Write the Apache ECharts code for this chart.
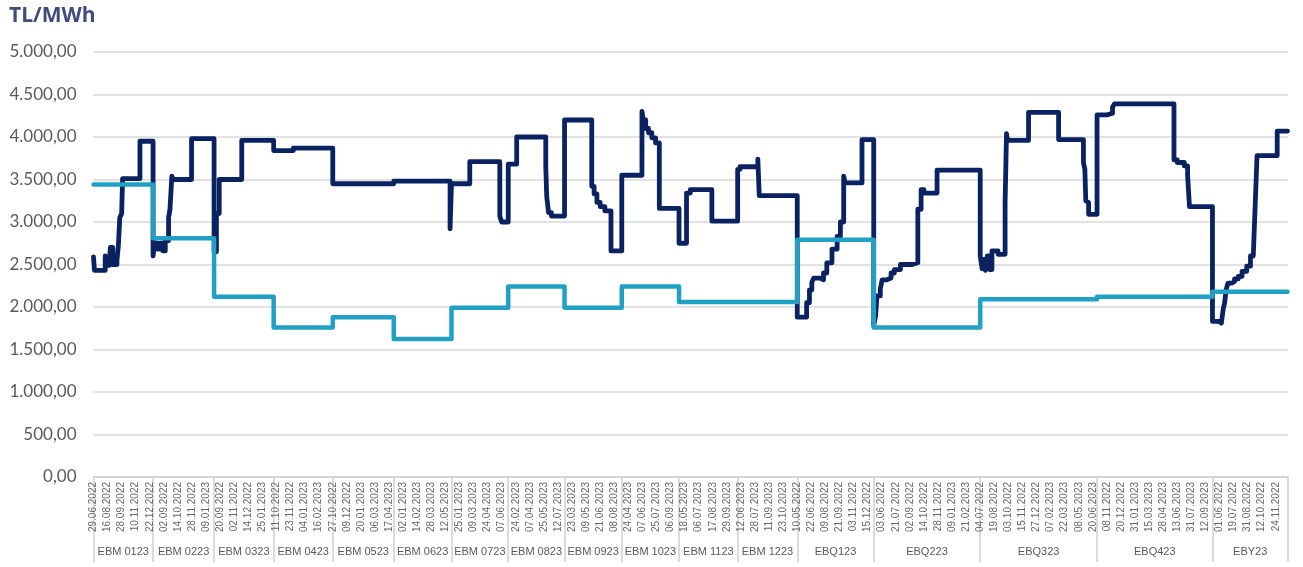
<!DOCTYPE html>
<html>
<head>
<meta charset="utf-8">
<script src="https://cdn.jsdelivr.net/npm/echarts@6/dist/echarts.min.js"></script>
<style>
html,body{margin:0;padding:0;background:#fff;}
#chart{width:1303px;height:567px;}
</style>
</head>
<body>
<div id="chart"></div>
<script>
// ---- DATA ----
// date labels, one every 30 trading days
const labelStep = 30;
const tickDates = [
 "29.06.2022","16.08.2022","28.09.2022","10.11.2022","22.12.2022",
 "02.09.2022","14.10.2022","28.11.2022","09.01.2023",
 "20.09.2022","02.11.2022","14.12.2022","25.01.2023",
 "11.10.2022","23.11.2022","04.01.2023","16.02.2023",
 "27.10.2022","09.12.2022","20.01.2023","06.03.2023","17.04.2023",
 "02.01.2023","14.02.2023","28.03.2023","12.05.2023",
 "25.01.2023","09.03.2023","24.04.2023","07.06.2023",
 "24.02.2023","07.04.2023","25.05.2023","12.07.2023",
 "23.03.2023","09.05.2023","21.06.2023","08.08.2023",
 "24.04.2023","07.06.2023","25.07.2023","06.09.2023",
 "18.05.2023","06.07.2023","17.08.2023","29.09.2023",
 "12.06.2023","28.07.2023","11.09.2023","23.10.2023",
 "10.05.2022","22.06.2022","09.08.2022","21.09.2022","03.11.2022","15.12.2022",
 "03.06.2022","21.07.2022","02.09.2022","14.10.2022","28.11.2022","09.01.2023","21.02.2023",
 "04.07.2022","19.08.2022","03.10.2022","15.11.2022","27.12.2022","07.02.2023","22.03.2023","08.05.2023","20.06.2023",
 "08.11.2022","20.12.2022","31.01.2023","15.03.2023","28.04.2023","13.06.2023","31.07.2023","12.09.2023",
 "01.06.2022","19.07.2022","31.08.2022","12.10.2022","24.11.2022"
];
// contracts (groups) and first trading-day index of each
const contracts = ["EBM 0123","EBM 0223","EBM 0323","EBM 0423","EBM 0523","EBM 0623","EBM 0723","EBM 0823","EBM 0923","EBM 1023","EBM 1123","EBM 1223","EBQ123","EBQ223","EBQ323","EBQ423","EBY23"];
const contractStart = [0,127,257,384,510,640,763,884,1004,1126,1248,1373,1500,1663,1890,2139,2385];
const totalDays = 2546;
// settlement reference (teal) per contract, TL/MWh
const referencePrice = [3440,2810,2120,1760,1880,1625,1990,2240,1990,2240,2060,2060,2790,1760,2090,2120,2180];
// contract price (navy): [trading-day index, TL/MWh] change points
const contractPrice = [
 [0,2590],[2,2430],[25,2600],[28,2490],[34,2560],[36,2700],[41,2500],[50,2550],[53,2720],[56,3050],[60,3100],[62,3510],[99,3950],
 [127,2600],[130,2750],[137,2680],[142,2750],[148,2660],[153,2780],[160,3050],[163,3150],[167,3540],[170,3500],[209,3980],
 [257,2650],[262,3100],[268,3500],[316,3960],
 [384,3840],[426,3870],
 [510,3450],
 [640,3480],[760,2920],
 [763,3450],[802,3710],[866,3070],[870,3000],
 [884,3680],[902,4000],[964,3650],[966,3300],[970,3110],[976,3070],
 [1004,4200],[1062,3420],[1067,3330],[1073,3230],[1080,3180],[1090,3130],[1103,2660],
 [1126,3550],[1169,4300],[1172,4200],[1177,4100],[1183,4050],[1190,3990],[1198,3930],[1206,3160],
 [1248,2750],[1264,3340],[1272,3380],[1318,3010],
 [1373,3620],[1378,3650],[1416,3740],[1419,3310],
 [1500,1880],[1520,2050],[1526,2200],[1531,2290],[1535,2340],[1549,2320],[1556,2400],[1563,2520],[1574,2680],[1585,2830],[1592,3000],[1599,3540],[1602,3460],[1638,3970],
 [1663,1780],[1667,1900],[1670,2130],[1677,2210],[1681,2320],[1691,2340],[1700,2400],[1707,2440],[1720,2500],[1745,2520],[1757,3150],[1764,3380],[1770,3340],[1798,3610],
 [1890,2600],[1894,2450],[1898,2560],[1901,2430],[1905,2600],[1910,2440],[1915,2660],[1928,2620],[1943,3220],[1946,4040],[1948,3960],[1993,4290],[2057,3970],[2110,3700],[2113,3620],[2115,3250],[2119,3230],[2121,3090],
 [2139,4260],[2160,4280],[2172,4350],[2176,4390],[2303,3730],[2310,3700],[2325,3660],[2332,3550],[2336,3180],
 [2385,1830],[2399,1810],[2404,1790],[2408,1980],[2411,2050],[2414,2200],[2418,2280],[2426,2300],[2432,2330],[2440,2360],[2448,2420],[2458,2480],[2466,2600],[2472,2620],[2476,3190],[2480,3780],[2523,4070],[2545,4070]
];

// ---- BUILD ----
const contractEnd = contractStart.slice(1).concat([totalDays]);
const contractCenter = contractStart.map((s,i)=> (s + contractEnd[i]) / 2);
const refData = [];
referencePrice.forEach((v,i)=>{ refData.push([contractStart[i], v]); });
refData.push([totalDays-1, referencePrice[referencePrice.length-1]]);

function trNum(v){
  const s = Math.round(v).toString().replace(/\B(?=(\d{3})+(?!\d))/g, '.');
  return s + ',00';
}
const gray = '#595959';
const chart = echarts.init(document.getElementById('chart'), null, {renderer:'canvas'});
chart.setOption({
  animation:false,
  backgroundColor:'#ffffff',
  title:{text:'TL/MWh', left:4, top:1, textStyle:{fontFamily:'Open Sans', fontWeight:'bold', fontSize:21, color:'#3f4c7c'}},
  grid:{left:93.5, right:15, top:52, bottom:90},
  xAxis:[
    {type:'value', min:0, max:totalDays, position:'bottom',
     axisLine:{show:true, lineStyle:{color:'#d0d0d0', width:1.5}},
     axisTick:{show:true, customValues: contractStart.concat([totalDays]), length:85, lineStyle:{color:'#d0d0d0', width:1.5}},
     axisLabel:{customValues: tickDates.map((d,i)=>i*labelStep), rotate:90, margin:5,
       formatter:(v)=> tickDates[Math.round(v/labelStep)] || '',
       fontSize:10, color:'#666666', fontFamily:'Liberation Sans'},
     splitLine:{show:false}},
    {type:'value', min:0, max:totalDays, position:'bottom', offset:65,
     axisLine:{show:false}, axisTick:{show:false}, splitLine:{show:false},
     axisLabel:{customValues: contractCenter, margin:4,
       formatter:(v)=>{ let b=0; contractCenter.forEach((c,i)=>{ if(Math.abs(c-v)<Math.abs(contractCenter[b]-v)) b=i; }); return contracts[b]; },
       fontSize:11, color:gray, fontFamily:'Liberation Sans'}}
  ],
  yAxis:{type:'value', min:0, max:5000, interval:500,
    axisLine:{show:false}, axisTick:{show:false},
    axisLabel:{formatter:trNum, fontSize:17, color:gray, margin:17, fontFamily:'Lato'},
    splitLine:{lineStyle:{color:'#d9d9d9', width:1.5}}},
  series:[
    {type:'line', xAxisIndex:0, step:'end', data:contractPrice, symbol:'none', silent:true,
     lineStyle:{color:'#0b2260', width:4.8, cap:'round', join:'round'}},
    {type:'line', xAxisIndex:0, step:'end', data:refData, symbol:'none', silent:true,
     lineStyle:{color:'#22a0c3', width:4.5, cap:'round', join:'round'}}
  ]
});
</script>
</body>
</html>
